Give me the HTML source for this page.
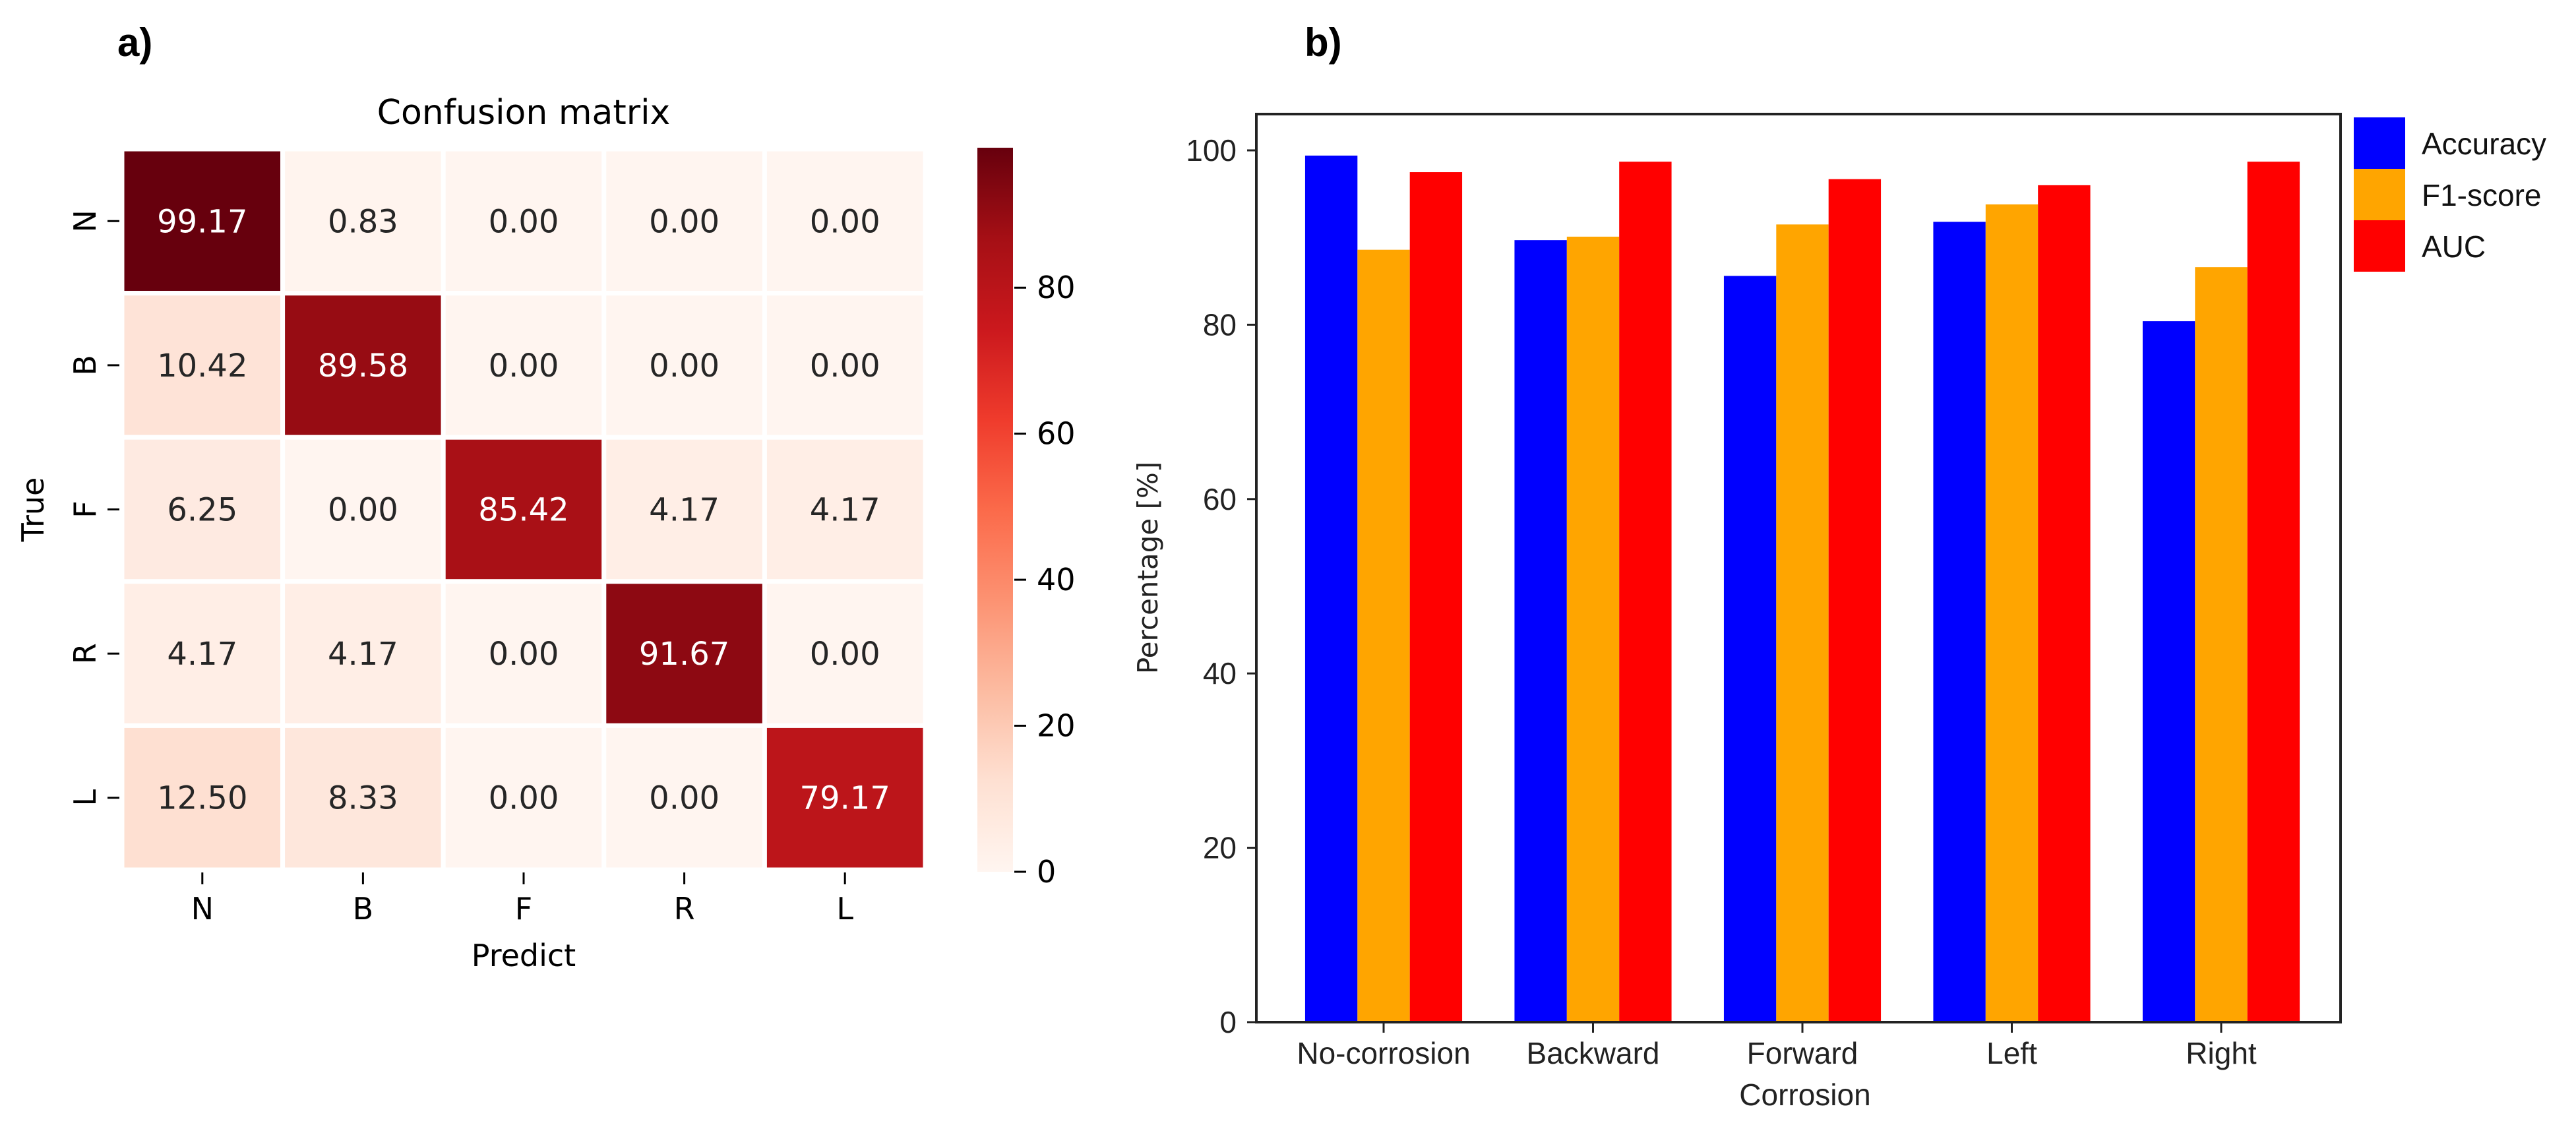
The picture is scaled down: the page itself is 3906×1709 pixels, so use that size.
<!DOCTYPE html>
<html><head><meta charset="utf-8"><style>
html,body{margin:0;padding:0;background:#fff}
svg{display:block}
.dv{font-family:"DejaVu Sans","Liberation Sans",sans-serif}
.nr{font-family:"Liberation Sans Narrow","Liberation Sans",sans-serif}
</style></head><body>
<svg id="fig" width="3906" height="1709" viewBox="0 0 3906 1709" xmlns="http://www.w3.org/2000/svg">
<text x="178" y="85" font-family="Liberation Sans, sans-serif" font-weight="bold" font-size="60">a)</text>
<text x="1978" y="85" font-family="Liberation Sans, sans-serif" font-weight="bold" font-size="60">b)</text>
<g id="hm"></g>
<g id="bc"></g>
</svg>
<script>
// ---------- Confusion matrix data ----------
const cmLabels = ["N","B","F","R","L"];
const cmRow0 = [99.17,0.83,0.00,0.00,0.00];
const cmRow1 = [10.42,89.58,0.00,0.00,0.00];
const cmRow2 = [6.25,0.00,85.42,4.17,4.17];
const cmRow3 = [4.17,4.17,0.00,91.67,0.00];
const cmRow4 = [12.50,8.33,0.00,0.00,79.17];
const cbTicks = [0,20,40,60,80];
// ---------- Bar chart data ----------
const barCategories = ["No-corrosion","Backward","Forward","Left","Right"];
const accuracyVals = [99.4,89.7,85.6,91.8,80.4];
const f1Vals = [88.6,90.1,91.5,93.8,86.6];
const aucVals = [97.5,98.7,96.7,96.0,98.7];
const yTicks = [0,20,40,60,80,100];
const seriesNames = ["Accuracy","F1-score","AUC"];

const NS="http://www.w3.org/2000/svg";
function mk(tag,attrs,parent){const e=document.createElementNS(NS,tag);for(const k in attrs)e.setAttribute(k,attrs[k]);parent.appendChild(e);return e;}
const reds=["#fff5f0","#fee0d2","#fcbba1","#fc9272","#fb6a4a","#ef3b2c","#cb181d","#a50f15","#67000d"];
function hx(c){return [1,3,5].map(i=>parseInt(c.substr(i,2),16));}
function cmap(t){t=Math.max(0,Math.min(1,t));const p=t*(reds.length-1);const i=Math.min(Math.floor(p),reds.length-2);const f=p-i;const a=hx(reds[i]),b=hx(reds[i+1]);return "rgb("+a.map((v,k)=>Math.round(v+(b[k]-v)*f)).join(",")+")";}

// ---------- Heatmap ----------
const hm=document.getElementById('hm');
const rows=[cmRow0,cmRow1,cmRow2,cmRow3,cmRow4];
const hx0=185,hx1=1403,hy0=226,hy1=1319;
const allV=rows.flat();const vmax=Math.max(...allV),vmin=0;
const cw=(hx1-hx0)/cmLabels.length,ch=(hy1-hy0)/cmLabels.length;
const colX=j=>hx0+j*cw, rowY=i=>hy0+i*ch;
rows.forEach((r,i)=>r.forEach((v,j)=>{
  const t=(v-vmin)/(vmax-vmin);
  const c=mk('rect',{x:colX(j),y:rowY(i),width:cw,height:ch,fill:cmap(t),stroke:"#fff","stroke-width":7},hm);
  
  
  const tx=mk('text',{x:colX(j)+cw/2,y:rowY(i)+ch/2+17,"text-anchor":"middle","font-size":48,fill:t>0.5?"#fff":"#262626",class:"dv"},hm);
  tx.textContent=v.toFixed(2);
  
  
}));
cmLabels.forEach((l,j)=>{
  const cx=colX(j)+cw/2;
  mk('line',{x1:cx,y1:hy1+4,x2:cx,y2:hy1+22,stroke:"#000","stroke-width":3},hm);
  const t=mk('text',{x:cx,y:hy1+75,"text-anchor":"middle","font-size":46,class:"dv",fill:"#000"},hm);
  t.textContent=l;
  
  
  const cy=rowY(j)+ch/2;
  mk('line',{x1:hx0-22,y1:cy,x2:hx0-4,y2:cy,stroke:"#000","stroke-width":3},hm);
  const r=mk('text',{x:0,y:0,"text-anchor":"middle","font-size":46,class:"dv",fill:"#000",transform:"translate(145,"+cy+") rotate(-90)"},hm);
  r.textContent=l;
  
  
});
let tt=mk('text',{x:(hx0+hx1)/2,y:188,"text-anchor":"middle","font-size":52,class:"dv",fill:"#000"},hm);tt.textContent="Confusion matrix";


tt=mk('text',{x:(hx0+hx1)/2,y:1465,"text-anchor":"middle","font-size":46,class:"dv",fill:"#000"},hm);tt.textContent="Predict";


tt=mk('text',{x:0,y:0,"text-anchor":"middle","font-size":46,class:"dv",fill:"#000",transform:"translate(66,"+((hy0+hy1)/2)+") rotate(-90)"},hm);tt.textContent="True";


// colorbar
const cbx=1482,cbw=54,cbBot=1322,cbTop=224;
const cbY=v=>cbBot-(v-vmin)/(vmax-vmin)*(cbBot-cbTop);
const defs=mk('defs',{},hm);
const g=mk('linearGradient',{id:"cbg",x1:0,y1:1,x2:0,y2:0},defs);
for(let k=0;k<=16;k++){mk('stop',{offset:(k/16),"stop-color":cmap(k/16)},g);}
const cb=mk('rect',{x:cbx,y:cbTop,width:cbw,height:cbBot-cbTop,fill:"url(#cbg)"},hm);


cbTicks.forEach(v=>{
  const y=cbY(v);
  mk('line',{x1:cbx+cbw+2,y1:y,x2:cbx+cbw+20,y2:y,stroke:"#000","stroke-width":3},hm);
  const t=mk('text',{x:cbx+cbw+36,y:y+16,"font-size":46,class:"dv",fill:"#000"},hm);t.textContent=v;
  
  
});

// ---------- Bar chart ----------
const bc=document.getElementById('bc');
const ax0=1905,ax1=3549,ay0=173,ay1=1550;
const x0c=2098,step=317.5; // center of category 0, spacing
const xC=i=>x0c+i*step;
const yV=v=>1550-v*(1550-228)/100;
const bw=step*0.25;
const series=[accuracyVals,f1Vals,aucVals];
const colors=["#0000ff","#ffa500","#ff0000"];
series.forEach((s,k)=>s.forEach((v,i)=>{
  const b=mk('rect',{x:xC(i)+(k-1)*bw-bw/2,y:yV(v),width:bw,height:yV(0)-yV(v),fill:colors[k]},bc);
  
  
}));
const fr=mk('rect',{x:ax0,y:ay0,width:ax1-ax0,height:ay1-ay0,fill:"none",stroke:"#222","stroke-width":4},bc);


yTicks.forEach(v=>{
  const y=yV(v);
  mk('line',{x1:ax0-14,y1:y,x2:ax0,y2:y,stroke:"#222","stroke-width":3},bc);
  const t=mk('text',{x:ax0-30,y:y+16,"text-anchor":"end","font-size":46,class:"nr",fill:"#222"},bc);t.textContent=v;
  
  
});
barCategories.forEach((c,i)=>{
  const x=xC(i);
  mk('line',{x1:x,y1:ay1,x2:x,y2:ay1+16,stroke:"#222","stroke-width":3},bc);
  const t=mk('text',{x:x,y:ay1+63,"text-anchor":"middle","font-size":46,class:"nr",fill:"#222"},bc);t.textContent=c;
  
  
});
tt=mk('text',{x:2737,y:1676,"text-anchor":"middle","font-size":46,class:"nr",fill:"#222"},bc);tt.textContent="Corrosion";


tt=mk('text',{x:0,y:0,"text-anchor":"middle","font-size":42,class:"dv",fill:"#222",transform:"translate(1755,861) rotate(-90)"},bc);tt.textContent="Percentage [%]";


// legend
seriesNames.forEach((n,k)=>{
  const y=178+k*78;
  const p=mk('rect',{x:3569,y:y,width:78,height:78,fill:colors[k]},bc);
  
  
  const t=mk('text',{x:3672,y:y+56,"font-size":46,class:"nr",fill:"#111"},bc);t.textContent=n;
  
  
});
</script>
</body></html>
